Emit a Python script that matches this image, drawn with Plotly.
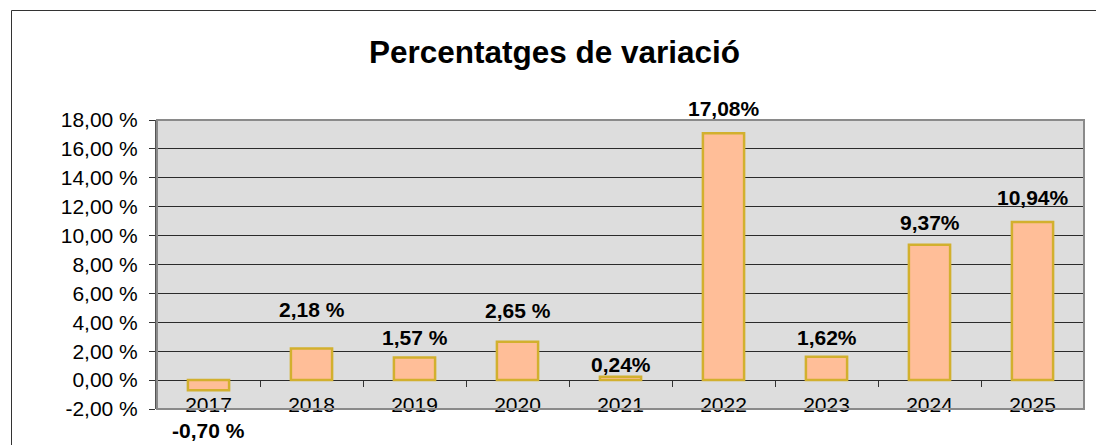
import plotly.graph_objects as go

years = ["2017", "2018", "2019", "2020", "2021", "2022", "2023", "2024", "2025"]
variation = [-0.70, 2.18, 1.57, 2.65, 0.24, 17.08, 1.62, 9.37, 10.94]
value_labels = ["-0,70 %", "2,18 %", "1,57 %", "2,65 %", "0,24%", "17,08%", "1,62%", "9,37%", "10,94%"]
y_tick_values = [-2, 0, 2, 4, 6, 8, 10, 12, 14, 16, 18]
y_tick_labels = ["-2,00 %", "0,00 %", "2,00 %", "4,00 %", "6,00 %", "8,00 %",
                 "10,00 %", "12,00 %", "14,00 %", "16,00 %", "18,00 %"]

# pixel offsets of the value labels relative to the bar end (styling)
label_shift_px = [-40, 39, 20, 31, 12, 25, 19, 22, 25]

FONT = "Arial, 'Liberation Sans', sans-serif"
OFF = 8                      # page body margin
W, H = 1104 - OFF, 445 - OFF
L, R, T, B = 157 - OFF, 20, 120 - OFF, 36
pw, ph = W - L - R, H - T - B

fig = go.Figure()
fig.add_trace(go.Bar(
    x=years, y=variation, width=0.40,
    marker=dict(color="#FFBE98", line=dict(color="#D2B02E", width=2.5)),
    hoverinfo="x+y",
))

for i, (v, txt, s) in enumerate(zip(variation, value_labels, label_shift_px)):
    fig.add_annotation(x=i, y=v, xref="x", yref="y", text=f"<b>{txt}</b>", showarrow=False,
                       yshift=s, yanchor="middle", xanchor="center",
                       font=dict(family=FONT, size=21, color="black"))

ymin, ymax = -2, 18
zero_pos = (0 - ymin) / (ymax - ymin)

fig.update_layout(
    width=W, height=H,
    margin=dict(l=L, r=R, t=T, b=B, pad=0, autoexpand=False),
    paper_bgcolor="white", plot_bgcolor="#DDDDDD",
    showlegend=False,
    font=dict(family=FONT, size=20, color="black"),
    title=dict(text="<b>Percentatges de variació</b>", x=(554.5 - OFF) / W, xanchor="center",
               xref="container", yref="container", y=1 - (51.5 - OFF) / H, yanchor="middle",
               font=dict(family=FONT, size=31.5, color="black")),
    xaxis=dict(type="category", categoryorder="array", categoryarray=years,
               range=[-0.5, len(years) - 0.5], autorange=False,
               anchor="free", position=zero_pos, automargin=False,
               showgrid=False, showline=False, zeroline=False,
               ticks="outside", tickson="boundaries", ticklen=6, tickwidth=1,
               tickcolor="#333333", ticklabelstandoff=10, tickangle=0,
               tickfont=dict(family=FONT, size=21, color="black")),
    yaxis=dict(range=[ymin, ymax], autorange=False, automargin=False,
               tickvals=y_tick_values, ticktext=y_tick_labels,
               showgrid=True, gridcolor="#2a2a2a", gridwidth=1, zeroline=False,
               showline=True, linecolor="#555555", linewidth=2,
               ticks="outside", ticklen=6, tickwidth=1, tickcolor="#333333",
               ticklabelstandoff=7,
               tickfont=dict(family=FONT, size=21, color="black")),
)

# plot-area border
fig.add_shape(type="rect", xref="x domain", yref="y domain", x0=0, x1=1, y0=0, y1=1,
              line=dict(color="#8a8a8a", width=2), fillcolor="rgba(0,0,0,0)", layer="above")

# outer chart frame (paper coords converted from page pixels)
def px_x(px):
    return (px - OFF - L) / pw

def px_y(py):
    return (H - B - (py - OFF)) / ph

fig.add_shape(type="rect", xref="paper", yref="paper",
              x0=px_x(11.5), x1=px_x(1104 + 20), y0=px_y(445 + 20), y1=px_y(10.5),
              line=dict(color="#333333", width=1), fillcolor="rgba(0,0,0,0)")

fig.write_html("out.html")
